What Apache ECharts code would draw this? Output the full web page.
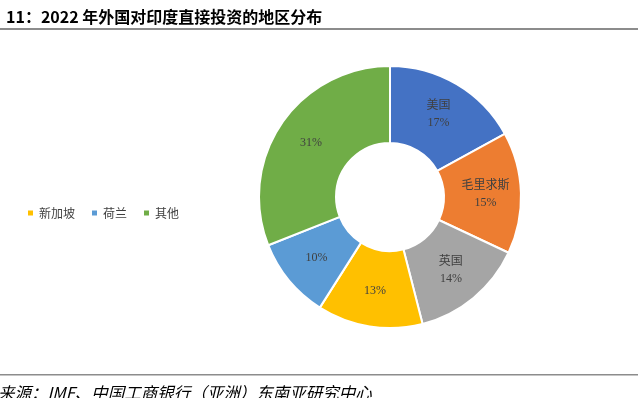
<!DOCTYPE html>
<html>
<head>
<meta charset="utf-8">
<script src="https://cdn.jsdelivr.net/npm/echarts@6/dist/echarts.min.js"></script>
<style>
html, body { margin: 0; padding: 0; background: #fff; }
#main { width: 638px; height: 398px; }
</style>
</head>
<body>
<div id="main"></div>
<script>
var regions = ['美国', '毛里求斯', '英国', '新加坡', '荷兰', '其他'];
var shares = [17, 15, 14, 13, 10, 31];
var colors = ['#4472C4', '#ED7D31', '#A5A5A5', '#FFC000', '#5B9BD5', '#70AD47'];
var legendNames = ['新加坡', '荷兰', '其他'];
var namedLabels = ['美国', '毛里求斯', '英国'];

var myChart = echarts.init(document.getElementById('main'));
var myData = [];
for (var i = 0; i < regions.length; i++) {
	myData.push({ name: regions[i], value: shares[i], itemStyle: { color: colors[i] } });
}

var option = {
	animation: false,
	title: {
		text: '11：2022 年外国对印度直接投资的地区分布',
		left: 1,
		top: 4,
		textStyle: { fontSize: 16, fontWeight: 'bold', color: '#000', fontFamily: 'Noto Sans CJK SC' }
	},
	legend: {
		data: legendNames,
		left: 21,
		top: 202,
		icon: 'rect',
		itemWidth: 7,
		itemHeight: 7,
		itemGap: 15,
		textStyle: { fontSize: 12, color: '#404040', fontFamily: 'Noto Sans CJK SC' }
	},
	graphic: [
		{ type: 'rect', shape: { x: 0, y: 28, width: 638, height: 2 }, style: { fill: '#8c8c8c' } },
		{ type: 'rect', shape: { x: 0, y: 374, width: 638, height: 1.5 }, style: { fill: '#8c8c8c' } },
		{
			type: 'text', left: -2, top: 384,
			style: { text: '来源：IMF、中国工商银行（亚洲）东南亚研究中心', fontSize: 16.5, fontStyle: 'italic', fill: '#000', fontFamily: 'Noto Sans CJK SC' }
		}
	],
	series: [{
		type: 'pie',
		center: [390, 197],
		radius: [54, 131],
		startAngle: 90,
		clockwise: true,
		data: myData,
		itemStyle: { borderColor: '#fff', borderWidth: 2 },
		label: {
			show: true,
			position: 'inside',
			fontSize: 12,
			lineHeight: 17,
			color: '#404040',
			fontFamily: 'Liberation Serif, Noto Sans CJK SC',
			formatter: function (p) {
				if (namedLabels.indexOf(p.name) >= 0) return p.name + '\n' + p.value + '%';
				return p.value + '%';
			}
		},
		labelLine: { show: false },
		emphasis: { disabled: true }
	}]
};
myChart.setOption(option);
</script>
</body>
</html>
